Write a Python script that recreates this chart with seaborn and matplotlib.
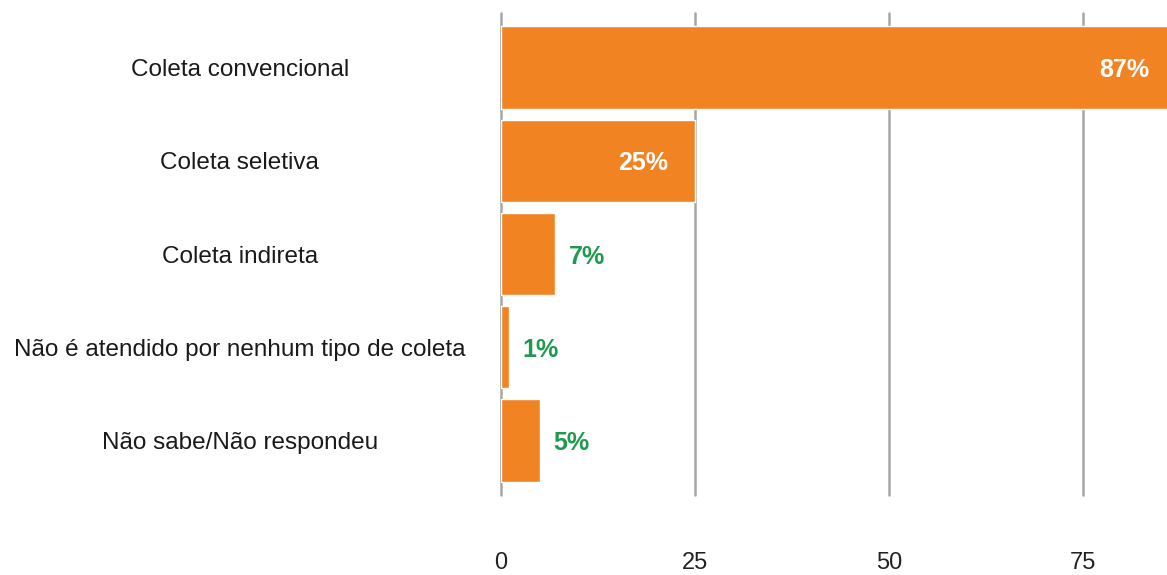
import matplotlib
matplotlib.use("Agg")
import matplotlib.pyplot as plt
import seaborn as sns
import pandas as pd

# Data
categorias = ["Coleta convencional", "Coleta seletiva", "Coleta indireta",
              "Não é atendido por nenhum tipo de coleta", "Não sabe/Não respondeu"]
valores = [87, 25, 7, 1, 5]
rotulos = ["87%", "25%", "7%", "1%", "5%"]
ticks_x = [0, 25, 50, 75]

laranja = "#F28322"
verde = "#1E9A4E"
cinza = "#A6A6A6"

df = pd.DataFrame({"categoria": categorias, "valor": valores})

sns.set_style("white")
plt.rcParams['font.family'] = ['Liberation Sans', 'DejaVu Sans']

fig = plt.figure(figsize=(11.67, 5.75), dpi=100)
ax = fig.add_axes([0.4293, 0.1391, 0.5707, 0.8383])

sns.barplot(data=df, x="valor", y="categoria", orient="h", color=laranja,
            width=0.89, saturation=1, ax=ax, zorder=3)

ax.set_xlim(0, 85.85)
ax.set_ylim(4.59, -0.59)
ax.set_xticks(ticks_x)
ax.grid(axis="x", color=cinza, linewidth=1.8, zorder=0)
ax.grid(axis="y", visible=False)
for gl in ax.get_xgridlines():
    gl.set_clip_on(False)
for s in ax.spines.values():
    s.set_visible(False)
ax.set_xlabel("")
ax.set_ylabel("")

ax.tick_params(axis="x", length=0, pad=41, labelsize=17)
for lbl in ax.get_xticklabels():
    lbl.set_color("#222222")
ax.tick_params(axis="y", length=0, pad=188, labelsize=17.5)
for lbl in ax.get_yticklabels():
    lbl.set_horizontalalignment("center")
    lbl.set_verticalalignment("center_baseline")
    lbl.set_color("#1a1a1a")

# value labels: inside (white) for the big bars, outside (green) for small ones
for barra, v, txt in zip(ax.patches, valores, rotulos):
    y = barra.get_y() + barra.get_height() / 2
    if v > 20:
        ax.annotate(txt, xy=(v, y), xytext=(-19, 0), textcoords="offset points",
                    ha="right", va="center_baseline", color="white", fontsize=18,
                    fontweight="bold", annotation_clip=False, zorder=5)
    else:
        ax.annotate(txt, xy=(v, y), xytext=(10, 0), textcoords="offset points",
                    ha="left", va="center_baseline", color=verde, fontsize=18,
                    fontweight="bold", annotation_clip=False, zorder=5)

fig.savefig("out.png", dpi=100)
